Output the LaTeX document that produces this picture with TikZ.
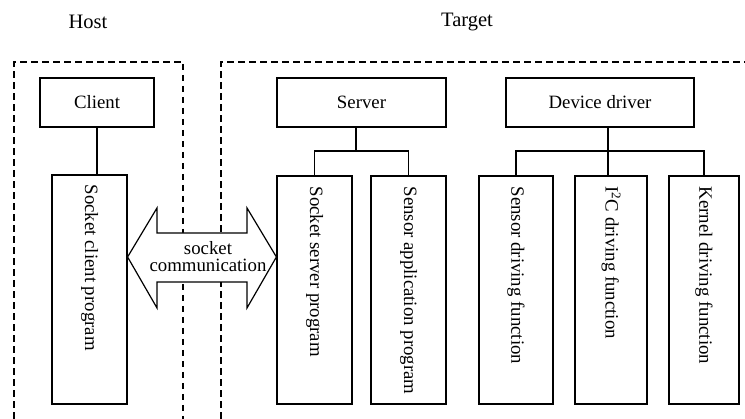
\documentclass[tikz,border=0pt]{standalone}
\usepackage{fontspec}
\setmainfont{Liberation Serif}
\begin{document}
\begin{tikzpicture}[x=1pt,y=-1pt,
  box/.style={draw, line width=1.2pt, inner sep=0pt, font=\fontsize{18.8}{20}\selectfont},
  vtext/.style={rotate=-90, anchor=west, inner sep=0pt, font=\fontsize{18.8}{20}\selectfont},
  lbl/.style={font=\fontsize{18.8}{20}\selectfont},
  ttl/.style={font=\fontsize{20.5}{22}\selectfont},
  conn/.style={line width=1.2pt},
  dsh/.style={line width=1.2pt, dash pattern=on 6.5pt off 4.5pt}]
\useasboundingbox (0,0) rectangle (745,419);
% titles
\node[ttl] (host) at (88,22) {Host};
\node[ttl] (target) at (467,22) {Target};
% dashed regions
\draw[dsh] (14,419) -- (14,62) -- (183,62) -- (183,419);
\draw[dsh] (221,419) -- (221,62) -- (745,62);
% top boxes
\node[box, minimum width=114pt, minimum height=49pt] (client) at (97,102.5) {Client};
\node[box, minimum width=169pt, minimum height=49pt] (server) at (361.5,102.5) {Server};
\node[box, minimum width=188pt, minimum height=49pt] (driver) at (600,102.5) {Device driver};
% tall boxes
\node[box, minimum width=75pt, minimum height=229pt] (scp) at (89.5,289.5) {};
\node[box, minimum width=75pt, minimum height=228pt] (ssp) at (314.5,290) {};
\node[box, minimum width=75pt, minimum height=228pt] (sap) at (408.5,290) {};
\node[box, minimum width=74pt, minimum height=228pt] (sdf) at (516,290) {};
\node[box, minimum width=72pt, minimum height=228pt] (idf) at (611,290) {};
\node[box, minimum width=70pt, minimum height=228pt] (kdf) at (704,290) {};
% vertical texts
\node[vtext] (t1) at ([yshift=-10pt]scp.north) {Socket client program};
\node[vtext] (t2) at ([yshift=-11pt]ssp.north) {Socket server program};
\node[vtext] (t3) at ([yshift=-11pt]sap.north) {Sensor application program};
\node[vtext] (t4) at ([yshift=-11pt]sdf.north) {Sensor driving function};
\node[vtext] (t5) at ([yshift=-11pt]idf.north) {I\textsuperscript{2}C driving function};
\node[vtext] (t6) at ([yshift=-11pt]kdf.north) {Kernel driving function};
% connectors
\draw[conn] (client.south) -- (client.south |- scp.north);
\coordinate (sj) at (356,151);
\draw[conn] (server.south -| sj) -- (sj);
\draw[conn] (ssp.north) |- (sj) -| (sap.north);
\coordinate (dj) at (608,151);
\draw[conn] (driver.south -| dj) -- (dj);
\draw[conn] (sdf.north) |- (dj) -| (kdf.north);
\draw[conn] (dj) -- (dj |- idf.north);
% double arrow
\draw[line width=1.2pt, fill=white, line join=miter]
  (scp.east |- 0,257) -- (157,208) -- (157,233) -- (247,233) -- (247,208) -- (ssp.west |- 0,257)
  -- (247,308) -- (247,282) -- (157,282) -- (157,308) -- cycle;
\node[lbl, align=center, inner sep=0pt, font=\fontsize{18.8}{17}\selectfont] (comm) at (208,257) {socket\\communication};
\end{tikzpicture}
\end{document}
